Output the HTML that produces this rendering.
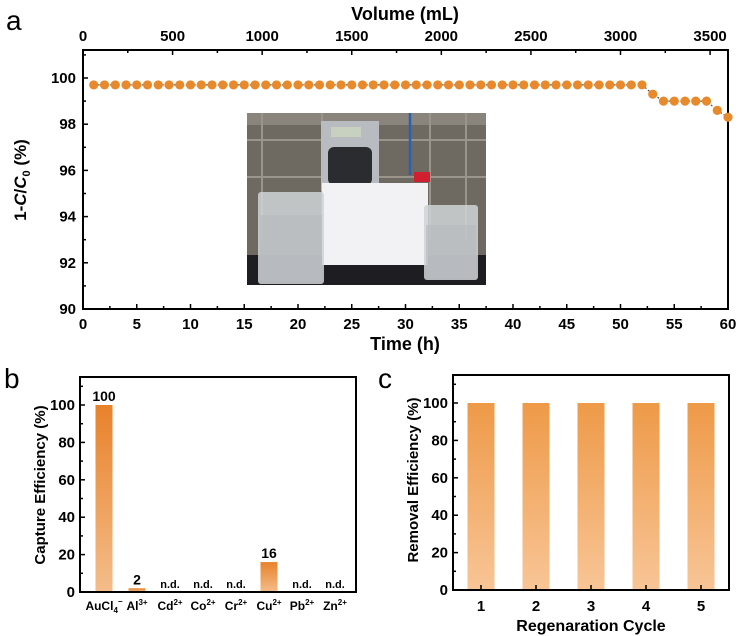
<!DOCTYPE html>
<html><head><meta charset="utf-8"><style>
body{margin:0;background:#fff}
svg{display:block;font-family:"Liberation Sans Narrow","Liberation Sans",sans-serif;font-weight:bold}
</style></head><body>
<svg id="s" width="745" height="636" viewBox="0 0 745 636">
<defs>
<linearGradient id="gb" x1="0" y1="0" x2="0" y2="1"><stop offset="0" stop-color="#e8822a"/><stop offset="1" stop-color="#f4bd8a"/></linearGradient>
<linearGradient id="gc" x1="0" y1="0" x2="0" y2="1"><stop offset="0" stop-color="#ee9a48"/><stop offset="1" stop-color="#f8c596"/></linearGradient>
</defs>
<g id="pa"></g>
<g id="pb"></g>
<g id="pc"></g>
</svg>
<script>
const timeH=[];for(let i=1;i<=60;i++)timeH.push(i);
const removalA=[99.7,99.7,99.7,99.7,99.7,99.7,99.7,99.7,99.7,99.7,99.7,99.7,99.7,99.7,99.7,99.7,99.7,99.7,99.7,99.7,99.7,99.7,99.7,99.7,99.7,99.7,99.7,99.7,99.7,99.7,99.7,99.7,99.7,99.7,99.7,99.7,99.7,99.7,99.7,99.7,99.7,99.7,99.7,99.7,99.7,99.7,99.7,99.7,99.7,99.7,99.7,99.7,99.3,99.0,99.0,99.0,99.0,99.0,98.6,98.3];
const xTicksA=[0,5,10,15,20,25,30,35,40,45,50,55,60];
const yTicksA=[90,92,94,96,98,100];
const volTicks=[0,500,1000,1500,2000,2500,3000,3500];
const ionsB=["AuCl","Al","Cd","Co","Cr","Cu","Pb","Zn"];
const ionSub=["4","","","","","","",""];
const ionSup=["−","3+","2+","2+","2+","2+","2+","2+"];
const captureB=[100,2,0,0,0,16,0,0];
const labelsB=["100","2","n.d.","n.d.","n.d.","16","n.d.","n.d."];
const yTicksB=[0,20,40,60,80,100];
const cyclesC=["1","2","3","4","5"];
const removalC=[100,100,100,100,100];
const yTicksC=[0,20,40,60,80,100];

const NS="http://www.w3.org/2000/svg";
function mk(p,t,a,txt){const e=document.createElementNS(NS,t);for(const k in a)e.setAttribute(k,a[k]);if(txt!==undefined)e.textContent=txt;p.appendChild(e);return e;}

// Panel A
const A=document.getElementById('pa');
const ax=t=>83+(t/60)*645, ay=v=>309-(v-90)*23.1, av=v=>83+(v/3600)*645;
let e;
e=mk(A,'text',{x:6,y:30,'font-size':28,'font-weight':'normal','font-family':'Liberation Sans'},'a');

const P=mk(A,'g',{});
mk(P,'rect',{x:247,y:113,width:239,height:172,fill:'#6e6a62'});
mk(P,'rect',{x:247,y:113,width:239,height:12,fill:'#8a857c'});
[262,322,430,466].forEach(x=>mk(P,'line',{x1:x,y1:113,x2:x,y2:240,stroke:'#9a958b','stroke-width':2}));
[140,177].forEach(y=>mk(P,'line',{x1:247,y1:y,x2:486,y2:y,stroke:'#9a958b','stroke-width':2}));
mk(P,'rect',{x:247,y:255,width:239,height:30,fill:'#1e1e22'});
mk(P,'rect',{x:321,y:121,width:58,height:70,fill:'#b8bcc0'});
mk(P,'rect',{x:331,y:127,width:30,height:10,fill:'#c8d0c0'});
mk(P,'rect',{x:328,y:147,width:44,height:38,rx:6,fill:'#2a2c30'});
mk(P,'rect',{x:322,y:183,width:106,height:82,fill:'#f2f2f4'});
mk(P,'line',{x1:410,y1:113,x2:410,y2:175,stroke:'#2b5fb0','stroke-width':2.5});
mk(P,'rect',{x:414,y:172,width:16,height:10,fill:'#d02030'});
mk(P,'rect',{x:258,y:192,width:66,height:92,rx:3,fill:'#d0d4d6',opacity:0.85});
mk(P,'rect',{x:260,y:215,width:62,height:66,fill:'#b8bcc0',opacity:0.7});
mk(P,'rect',{x:424,y:205,width:54,height:75,rx:3,fill:'#d0d4d6',opacity:0.85});
mk(P,'rect',{x:426,y:225,width:50,height:53,fill:'#b8bcc0',opacity:0.7});
e=mk(A,'rect',{x:83,y:50,width:645,height:259,fill:'none',stroke:'#000','stroke-width':2});

for(let t=0;t<=60;t+=2.5){const L=t%5==0?5:3;mk(A,'line',{x1:ax(t),y1:309,x2:ax(t),y2:309-L,stroke:'#000','stroke-width':1.5});}
xTicksA.forEach(t=>{e=mk(A,'text',{x:ax(t),y:329,'text-anchor':'middle','font-size':15},t);});
for(let v=90;v<=101;v+=1){const L=v%2==0?5:3;mk(A,'line',{x1:83,y1:ay(v),x2:83+L,y2:ay(v),stroke:'#000','stroke-width':1.5});}
yTicksA.forEach(v=>{e=mk(A,'text',{x:76,y:ay(v)+5,'text-anchor':'end','font-size':15},v);});
for(let v=0;v<=3600;v+=250){const L=v%500==0?5:3;mk(A,'line',{x1:av(v),y1:50,x2:av(v),y2:50+L,stroke:'#000','stroke-width':1.5});}
volTicks.forEach(v=>{e=mk(A,'text',{x:av(v),y:41,'text-anchor':'middle','font-size':15},v);});
e=mk(A,'text',{x:405,y:20,'text-anchor':'middle','font-size':18,'font-family':'Liberation Sans'},'Volume (mL)');
e=mk(A,'text',{x:405,y:350,'text-anchor':'middle','font-size':18,'font-family':'Liberation Sans'},'Time (h)');
e=mk(A,'text',{transform:'translate(26,180) rotate(-90)','text-anchor':'middle','font-size':17,'font-family':'Liberation Sans'});
e.innerHTML='1-<tspan font-style="italic">C</tspan>/<tspan font-style="italic">C</tspan><tspan font-size="11" dy="4">0</tspan><tspan dy="-4"> (%)</tspan>';

let d='';timeH.forEach((t,i)=>{d+=(i?'L':'M')+ax(t)+' '+ay(removalA[i]);});
e=mk(A,'path',{d:d,fill:'none',stroke:'#333','stroke-width':1,'stroke-dasharray':'2 2'});
timeH.forEach((t,i)=>{e=mk(A,'circle',{cx:ax(t),cy:ay(removalA[i]),r:4.6,fill:'#e8892c'});});

// Panel B
const B=document.getElementById('pb');
const by=v=>592-v*1.87, bx=i=>104+i*33;
e=mk(B,'text',{x:4,y:388,'font-size':28,'font-weight':'normal','font-family':'Liberation Sans'},'b');
ionsB.forEach((n,i)=>{
 const v=captureB[i];
 if(v>0){e=mk(B,'rect',{x:bx(i)-8.5,y:by(v),width:17,height:592-by(v),fill:'url(#gb)'});}
 e=mk(B,'text',{x:bx(i),y:by(v)-4,'text-anchor':'middle','font-size':v>0?14:11},labelsB[i]);
 e=mk(B,'text',{x:bx(i),y:610,'text-anchor':'middle','font-size':12});
 let h=n;if(ionSub[i])h+='<tspan font-size="8" dy="3">'+ionSub[i]+'</tspan><tspan font-size="8" dy="-9">'+ionSup[i]+'</tspan>';else h+='<tspan font-size="8" dy="-5">'+ionSup[i]+'</tspan>';
 e.innerHTML=h;
 
});
e=mk(B,'rect',{x:80,y:377,width:276,height:215,fill:'none',stroke:'#000','stroke-width':2});
for(let v=0;v<=110;v+=10){mk(B,'line',{x1:80,y1:by(v),x2:v%20==0?85:83,y2:by(v),stroke:'#000','stroke-width':1.5});}
yTicksB.forEach(v=>{e=mk(B,'text',{x:75,y:by(v)+5,'text-anchor':'end','font-size':15},v);});
e=mk(B,'text',{transform:'translate(45,485) rotate(-90)','text-anchor':'middle','font-size':15,'font-family':'Liberation Sans'},'Capture Efficiency (%)');

// Panel C
const C=document.getElementById('pc');
const cy=v=>590-v*1.87, cx=i=>481+i*55;
e=mk(C,'text',{x:378,y:388,'font-size':28,'font-weight':'normal','font-family':'Liberation Sans'},'c');
cyclesC.forEach((c,i)=>{
 e=mk(C,'rect',{x:cx(i)-13.5,y:cy(removalC[i]),width:27,height:590-cy(removalC[i]),fill:'url(#gc)'});
 e=mk(C,'text',{x:cx(i),y:611,'text-anchor':'middle','font-size':15},c);
 mk(C,'line',{x1:cx(i),y1:590,x2:cx(i),y2:585,stroke:'#000','stroke-width':1.5});
});
e=mk(C,'rect',{x:453,y:375,width:276,height:215,fill:'none',stroke:'#000','stroke-width':2});
for(let v=0;v<=110;v+=10){mk(C,'line',{x1:453,y1:cy(v),x2:v%20==0?458:456,y2:cy(v),stroke:'#000','stroke-width':1.5});}
yTicksC.forEach(v=>{e=mk(C,'text',{x:448,y:cy(v)+5,'text-anchor':'end','font-size':15},v);});
e=mk(C,'text',{x:591,y:631,'text-anchor':'middle','font-size':16,'font-family':'Liberation Sans'},'Regenaration Cycle');
e=mk(C,'text',{transform:'translate(418,480) rotate(-90)','text-anchor':'middle','font-size':15,'font-family':'Liberation Sans'},'Removal Efficiency (%)');
</script>
</body></html>
